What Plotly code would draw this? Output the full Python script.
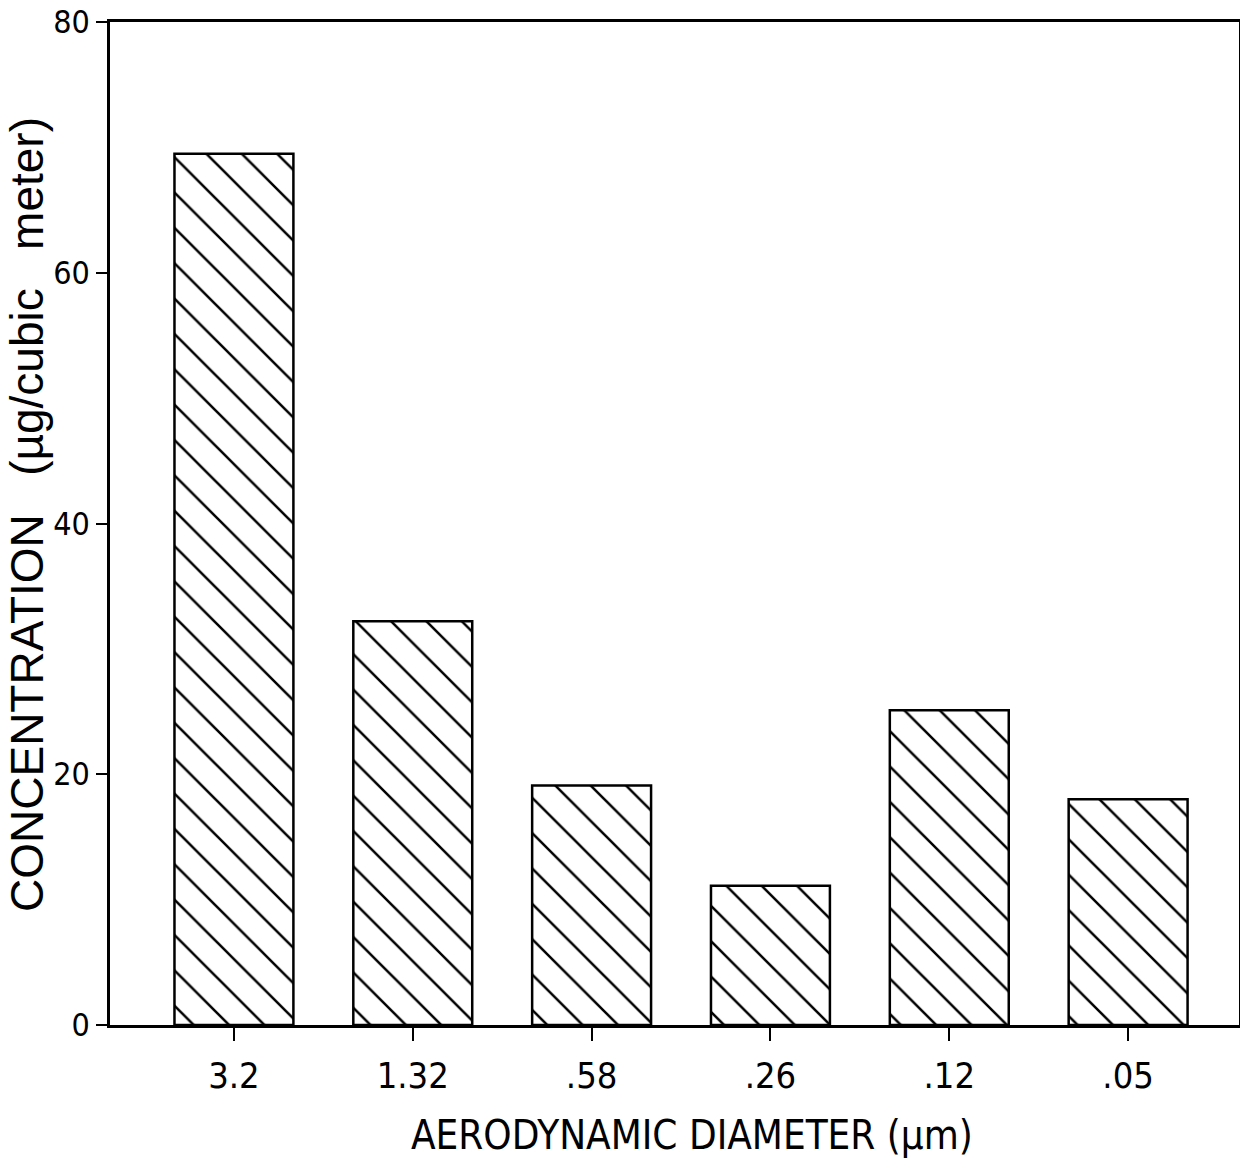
import plotly.graph_objects as go

categories = ["3.2", "1.32", ".58", ".26", ".12", ".05"]
concentration = [69.5, 32.2, 19.1, 11.1, 25.1, 18.0]
y_ticks = [0, 20, 40, 60, 80]
x_title = "AERODYNAMIC DIAMETER (µm)"
y_title = "CONCENTRATION   (µg/cubic   meter)"

COND = "DejaVu Sans Condensed, Liberation Sans Narrow, Arial"

fig = go.Figure()
fig.add_trace(go.Bar(
    x=list(range(len(categories))),
    y=concentration,
    width=0.665,
    marker=dict(
        color="white",
        line=dict(color="black", width=2.5),
        pattern=dict(shape="\\", size=25, solidity=0.1, fgcolor="black", fgopacity=1,
                     bgcolor="white", fillmode="overlay"),
    ),
    showlegend=False,
))

fig.update_layout(
    width=1240, height=1160,
    margin=dict(l=110, r=1, t=22, b=135),
    paper_bgcolor="white", plot_bgcolor="white",
    font=dict(family=COND, color="black"),
    bargap=0.33,
    annotations=[
        dict(text=x_title, xref="paper", yref="paper", x=0.5155, y=-0.1097,
             xanchor="center", yanchor="middle", showarrow=False,
             font=dict(size=40, family=COND, color="black")),
        dict(text=y_title, xref="paper", yref="paper", x=-0.0735, y=0.5085,
             xanchor="center", yanchor="middle", showarrow=False, textangle=-90,
             font=dict(size=46, family="Liberation Sans, Arial", color="black")),
    ],
)
fig.update_xaxes(
    automargin=False,
    range=[-0.693, 5.62],
    tickmode="array", tickvals=list(range(len(categories))), ticktext=categories,
    ticks="outside", ticklen=13, tickwidth=2, tickcolor="black",
    ticklabelstandoff=4,
    tickfont=dict(size=36, family=COND),
    showline=True, linecolor="black", linewidth=3, mirror=True,
    showgrid=False, zeroline=False,
)
fig.update_yaxes(
    automargin=False,
    range=[0, 80], tickvals=y_ticks,
    ticks="outside", ticklen=11, tickwidth=2, tickcolor="black",
    ticklabelstandoff=0,
    tickfont=dict(size=32, family=COND),
    showline=True, linecolor="black", linewidth=2.5, mirror=True,
    showgrid=False, zeroline=False,
)

fig.write_html("out.html", config={"displayModeBar": False},
               post_script="document.body.style.margin='0px';")
